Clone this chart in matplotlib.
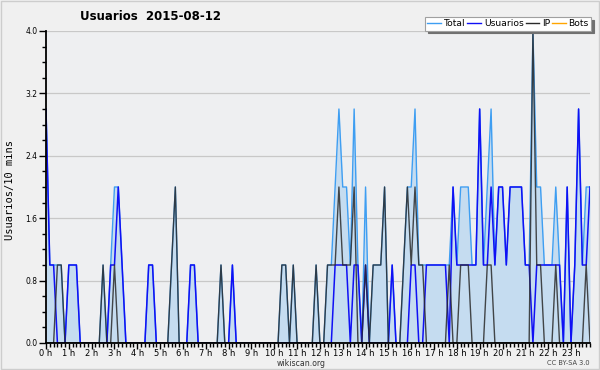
import numpy as np
import matplotlib
matplotlib.use('Agg')
import matplotlib.pyplot as plt
from matplotlib.lines import Line2D
from matplotlib.patches import Rectangle
from matplotlib.ticker import MultipleLocator, FormatStrFormatter

# Values per 10 minute slot (144 slots, 0 h .. 23 h 50)
usuarios = [3, 1, 1, 0, 0, 0, 1, 1, 1, 0,
            0, 0, 0, 0, 0, 0, 0, 1, 1, 2,
            1, 0, 0, 0, 0, 0, 0, 1, 1, 0,
            0, 0, 0, 0, 0, 0, 0, 0, 1, 1,
            0, 0, 0, 0, 0, 0, 0, 0, 0, 1,
            0, 0, 0, 0, 0, 0, 0, 0, 0, 0,
            0, 0, 0, 0, 0, 0, 0, 0, 0, 0,
            0, 0, 0, 0, 0, 0, 1, 1, 1, 1,
            0, 1, 1, 0, 1, 0, 0, 0, 0, 0,
            0, 1, 0, 0, 0, 0, 1, 1, 0, 0,
            1, 1, 1, 1, 1, 1, 0, 2, 1, 1,
            1, 1, 1, 1, 3, 1, 1, 2, 1, 2,
            2, 1, 2, 2, 2, 2, 1, 1, 0, 1,
            1, 1, 1, 1, 1, 1, 0, 2, 0, 1,
            3, 1, 1, 2]

ip = [0, 0, 0, 1, 1, 0, 0, 0, 0, 0,
      0, 0, 0, 0, 0, 1, 0, 0, 1, 0,
      0, 0, 0, 0, 0, 0, 0, 0, 0, 0,
      0, 0, 0, 1, 2, 0, 0, 0, 0, 0,
      0, 0, 0, 0, 0, 0, 1, 0, 0, 0,
      0, 0, 0, 0, 0, 0, 0, 0, 0, 0,
      0, 0, 1, 1, 0, 1, 0, 0, 0, 0,
      0, 1, 0, 0, 1, 1, 1, 2, 1, 1,
      1, 2, 0, 0, 1, 0, 1, 1, 1, 2,
      0, 0, 0, 0, 1, 2, 1, 2, 1, 1,
      0, 0, 0, 0, 0, 0, 1, 0, 0, 1,
      1, 1, 0, 0, 0, 0, 1, 1, 0, 0,
      0, 0, 0, 0, 0, 0, 0, 0, 4, 1,
      1, 0, 0, 0, 1, 0, 0, 0, 0, 0,
      0, 0, 1, 0]

total = [3, 1, 1, 1, 1, 0, 1, 1, 1, 0,
         0, 0, 0, 0, 0, 1, 0, 1, 2, 2,
         1, 0, 0, 0, 0, 0, 0, 1, 1, 0,
         0, 0, 0, 1, 2, 0, 0, 0, 1, 1,
         0, 0, 0, 0, 0, 0, 1, 0, 0, 1,
         0, 0, 0, 0, 0, 0, 0, 0, 0, 0,
         0, 0, 1, 1, 0, 1, 0, 0, 0, 0,
         0, 1, 0, 0, 1, 1, 2, 3, 2, 2,
         1, 3, 1, 0, 2, 0, 1, 1, 1, 2,
         0, 1, 0, 0, 1, 2, 2, 3, 1, 1,
         1, 1, 1, 1, 1, 1, 1, 2, 1, 2,
         2, 2, 1, 1, 3, 1, 2, 3, 1, 2,
         2, 1, 2, 2, 2, 2, 1, 1, 4, 2,
         2, 1, 1, 1, 2, 1, 0, 2, 0, 1,
         3, 1, 2, 2]

bots = [0] * len(total)

hours = list(range(24))
y_ticks = [0.0, 0.8, 1.6, 2.4, 3.2, 4.0]

x = np.arange(len(total))

fig = plt.figure(figsize=(6, 3.7), dpi=100)
fig.patch.set_facecolor('#F0F0F0')
fig.patches.append(Rectangle((0.001, 0.002), 0.997, 0.995, transform=fig.transFigure,
                             fill=False, edgecolor='#CDCDCD', linewidth=1.0))

ax = fig.add_axes([46 / 600, 27 / 370, 544 / 600, 312 / 370])
ax.set_facecolor('#EEEFF1')

# area + lines
ax.fill_between(x, total, 0, color='#C5DCF0', linewidth=0, zorder=1)
ax.plot(x, bots, color='#FFA500', linewidth=0.9, zorder=1.5)
ax.plot(x, total, color='#3E9EF2', linewidth=1.0, zorder=2)
ax.plot(x, usuarios, color='#1010F5', linewidth=1.1, zorder=3)
ax.plot(x, ip, color='#2A2A2A', linewidth=1.0, alpha=0.85, zorder=4)

ax.set_xlim(0, len(total) - 1)
ax.set_ylim(0, 4.0)

# y axis
ax.set_yticks(y_ticks)
ax.yaxis.set_major_formatter(FormatStrFormatter('%.1f'))
ax.yaxis.set_minor_locator(MultipleLocator(0.2))
ax.tick_params(axis='y', which='major', length=5, width=1, labelsize=5.5, pad=1, color='black')
ax.tick_params(axis='y', which='minor', length=3, width=1, color='black')
ax.yaxis.grid(True, color='#C8C8C8', linewidth=0.9)
ax.set_axisbelow(True)

# x axis, one label per hour, small tick per 10 minutes
ax.set_xticks([h * 6 for h in hours])
ax.set_xticklabels([f'{h} h' for h in hours])
ax.xaxis.set_minor_locator(MultipleLocator(1))
ax.tick_params(axis='x', which='major', length=4, width=1, labelsize=6, pad=0, color='black')
ax.tick_params(axis='x', which='minor', length=3, width=1, color='black')

for side in ['top', 'right']:
    ax.spines[side].set_visible(False)
for side in ['left', 'bottom']:
    ax.spines[side].set_linewidth(1.3)
    ax.spines[side].set_zorder(6)

# texts
fig.text(151 / 600, 1 - 16 / 370, 'Usuarios  2015-08-12', ha='center', va='center',
         fontsize=8.5, fontweight='bold')
fig.text(10 / 600, 1 - 190 / 370, 'Usuarios/10 mins', rotation=90, ha='center', va='center',
         family='DejaVu Sans Mono', fontsize=7.5)
fig.text(301 / 600, 1 - 363 / 370, 'wikiscan.org', ha='center', va='center', fontsize=5.6, color='#333333')
fig.text(590 / 600, 1 - 363 / 370, 'CC BY-SA 3.0', ha='right', va='center', fontsize=4.8, color='#444444')

# legend
handles = [Line2D([], [], color='#3E9EF2', lw=1),
           Line2D([], [], color='#1010F5', lw=1),
           Line2D([], [], color='#2A2A2A', lw=1),
           Line2D([], [], color='#FFA500', lw=1)]
leg = ax.legend(handles, ['Total', 'Usuarios', 'IP', 'Bots'], ncol=4, loc='upper right',
                bbox_to_anchor=(591 / 600, 1 - 17 / 370), bbox_transform=fig.transFigure,
                fontsize=6.6, frameon=True, fancybox=False, shadow={'color': '#707070', 'alpha': 1},
                handlelength=1.5, handletextpad=0.3, columnspacing=0.2, borderpad=0.25,
                borderaxespad=0)
leg.get_frame().set_edgecolor('#A0A0A0')
leg.get_frame().set_linewidth(0.8)
leg.set_zorder(10)

fig.savefig('out.png', dpi=100, facecolor=fig.get_facecolor())
